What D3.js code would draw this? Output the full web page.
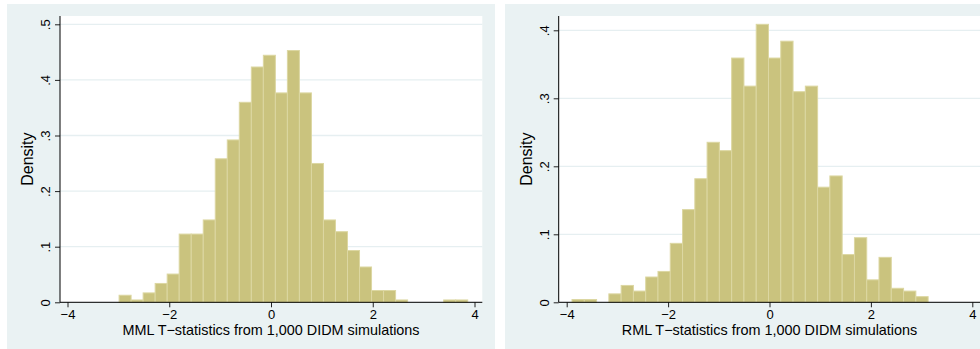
<!DOCTYPE html>
<html>
<head>
<meta charset="utf-8">
<script src="https://cdn.jsdelivr.net/npm/d3@7"></script>
<style>
  body { margin: 0; background: #fff; }
  svg { display: block; font-family: "Liberation Sans", Arial, sans-serif; }
</style>
</head>
<body>
<svg id="chart" width="980" height="349"></svg>
<script>
// DATA (densities, 29 bins each)
const xTicks = [-4, -2, 0, 2, 4];

const mmlTitle = "MML T\u2212statistics from 1,000 DIDM simulations";
const mmlTicks = [0, 0.1, 0.2, 0.3, 0.4, 0.5];
const mmlStart = -2.986;
const mmlWidth = 0.2363;
const mmlDensity = [0.0127, 0.0042, 0.0169, 0.0339, 0.0508, 0.1227, 0.1227, 0.1481, 0.2581, 0.292,
  0.3597, 0.4232, 0.4443, 0.3766, 0.4528, 0.3766, 0.2497, 0.1481, 0.127, 0.0931,
  0.0635, 0.0212, 0.0212, 0.0042, 0, 0, 0, 0.0042, 0.0042];

const rmlTitle = "RML T\u2212statistics from 1,000 DIDM simulations";
const rmlTicks = [0, 0.1, 0.2, 0.3, 0.4];
const rmlStart = -3.895;
const rmlWidth = 0.2422;
const rmlDensity = [0.0041, 0.0041, 0, 0.0124, 0.0248, 0.0165, 0.0372, 0.0454, 0.0867, 0.1363,
  0.1817, 0.2353, 0.223, 0.3592, 0.3179, 0.4088, 0.3592, 0.384, 0.3097, 0.3179,
  0.1693, 0.1858, 0.0702, 0.095, 0.033, 0.0661, 0.0206, 0.0165, 0.0083];

//helpers
function fmtY(d) {
  return d === 0 ? "0" : String(d).replace(/^0\./, ".");
}

function panel(svg, opt) {
  const g = svg.append("g");

  // graph region
  g.append("rect")
    .attr("x", opt.outer[0]).attr("y", 4)
    .attr("width", opt.outer[1] - opt.outer[0]).attr("height", 345)
    .attr("fill", "#eaf2f3");

  // plot region
  const top = 16, bottom = 302.3;
  g.append("rect")
    .attr("x", opt.left).attr("y", top)
    .attr("width", opt.right - opt.left).attr("height", bottom - top)
    .attr("fill", "#fff");

  const x = d3.scaleLinear().domain([-4, 4]).range(opt.xRange);
  const y = d3.scaleLinear().domain([0, opt.yTop]).range([bottom, bottom - opt.yPx]);

  // gridlines
  g.append("g").selectAll("line")
    .data(opt.yTicks)
    .join("line")
    .attr("x1", opt.left).attr("x2", opt.right)
    .attr("y1", d => y(d)).attr("y2", d => y(d))
    .attr("stroke", "#e6eff1")
    .attr("stroke-width", 1.3);

  // bars
  g.append("g").selectAll("rect")
    .data(opt.density)
    .join("rect")
    .attr("x", (d, i) => x(opt.start + i * opt.width))
    .attr("width", (d, i) => x(opt.start + (i + 1) * opt.width) - x(opt.start + i * opt.width))
    .attr("y", d => y(d))
    .attr("height", d => y(0) - y(d))
    .attr("fill", d => d > 0 ? "#cac37e" : "none")
    .attr("stroke", d => d > 0 ? "#dcd7a2" : "none")
    .attr("stroke-width", 1);

  // axes
  const yAxis = g.append("g")
    .attr("transform", `translate(${opt.left},0)`)
    .call(d3.axisLeft(y).tickValues(opt.yTicks).tickFormat(fmtY).tickSize(5).tickSizeOuter(0));
  yAxis.select(".domain").remove();
  yAxis.selectAll("text")
    .attr("transform", "rotate(-90)")
    .attr("x", 0).attr("y", -10).attr("dy", 0)
    .attr("text-anchor", "middle")
    .attr("font-size", 13)
    .attr("fill", "#000");

  const xAxis = g.append("g")
    .attr("transform", `translate(0,${bottom})`)
    .call(d3.axisBottom(x).tickValues(xTicks).tickSize(5).tickSizeOuter(0));
  xAxis.select(".domain").remove();
  xAxis.selectAll("text").attr("y", 7).attr("font-size", 13).attr("fill", "#000");
  g.selectAll(".tick line").attr("stroke", "#222");

  g.append("line")
    .attr("x1", opt.left).attr("x2", opt.left)
    .attr("y1", top).attr("y2", bottom)
    .attr("stroke", "#000");
  g.append("line")
    .attr("x1", opt.left).attr("x2", opt.right)
    .attr("y1", bottom).attr("y2", bottom)
    .attr("stroke", "#000");

  // titles
  g.append("text")
    .attr("x", x(0)).attr("y", 335)
    .attr("text-anchor", "middle")
    .attr("font-size", 14.4)
    .text(opt.title);
  g.append("text")
    .attr("transform", `translate(${opt.left - 27},${(top + bottom) / 2}) rotate(-90)`)
    .attr("text-anchor", "middle")
    .attr("font-size", 16)
    .text("Density");
}

const svg = d3.select("#chart");

panel(svg, {
  outer: [7, 495], left: 60, right: 482.3,
  xRange: [67.5, 474.5], yTop: 0.5, yPx: 278,
  yTicks: mmlTicks, start: mmlStart, width: mmlWidth, density: mmlDensity, title: mmlTitle
});

panel(svg, {
  outer: [505, 980], left: 558.7, right: 980,
  xRange: [566.7, 972.3], yTop: 0.4, yPx: 272,
  yTicks: rmlTicks, start: rmlStart, width: rmlWidth, density: rmlDensity, title: rmlTitle
});
</script>
</body>
</html>
